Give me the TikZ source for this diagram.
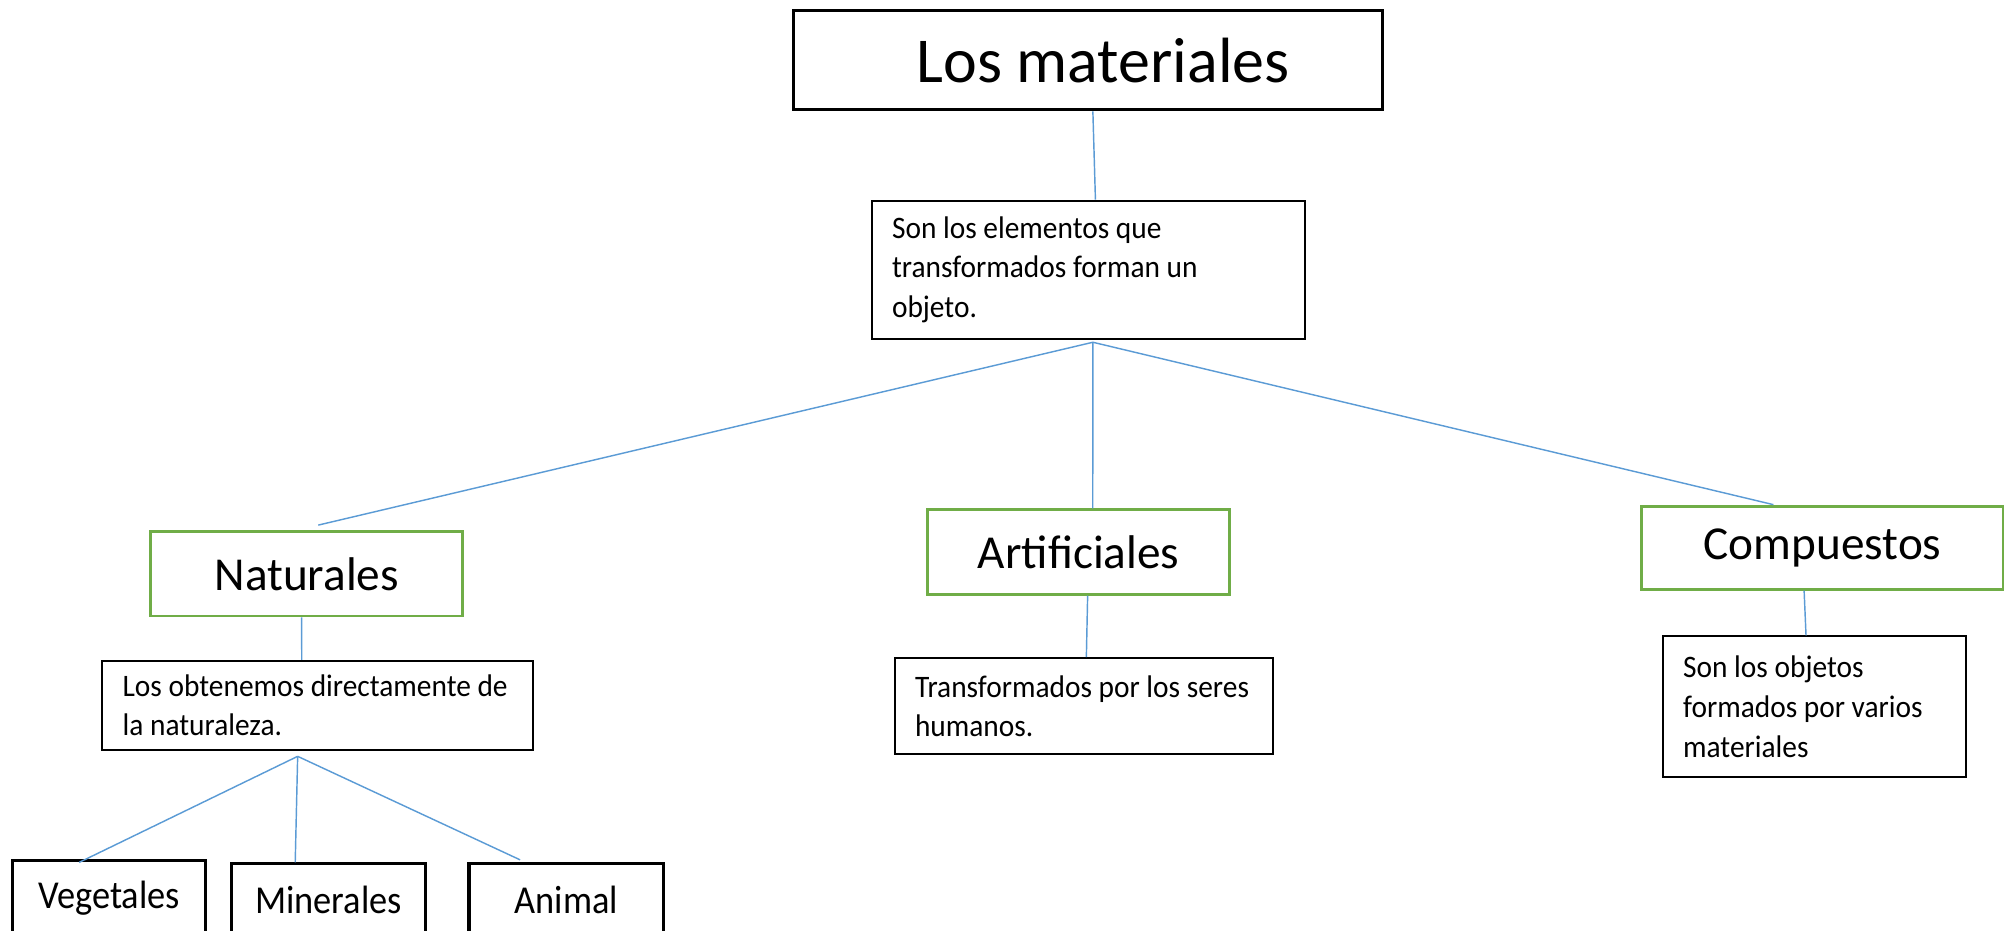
\documentclass[tikz,border=0pt]{standalone}
\usepackage{fontspec}
\setmainfont{Carlito}
\newfontfamily\narrowfont{Carlito}[FakeStretch=0.94]
\newfontfamily\leaffont{Carlito}[FakeStretch=0.92]
\usepackage{tikz}
\usetikzlibrary{positioning}
\definecolor{linkblue}{HTML}{5B9BD5}
\definecolor{kindgreen}{HTML}{70AD47}
\tikzstyle{titlebox} = [rectangle, draw=black, line width=1.7pt, inner sep=0pt, font=\fontsize{35.6}{42}\selectfont]
\tikzstyle{kindbox}  = [rectangle, draw=kindgreen, line width=1.6pt, inner sep=0pt, font=\fontsize{26.3}{32}\selectfont]
\tikzstyle{notebox}  = [rectangle, draw=black, line width=1.1pt, inner xsep=0.4cm, inner ysep=0pt, align=flush left, font=\narrowfont\fontsize{17.4}{22}\selectfont]
\tikzstyle{leafbox}  = [rectangle, draw=black, line width=1.7pt, inner sep=0pt, font=\leaffont\fontsize{22}{26}\selectfont]
\tikzstyle{link}     = [draw=linkblue, line width=0.8pt]

\begin{document}
\begin{tikzpicture}[x=0.025cm, y=-0.025cm]
            \useasboundingbox (0,0) rectangle (1568,728);
            \clip (0,0) rectangle (1568,728);

            \node[titlebox, minimum width=11.525cm, minimum height=1.95cm] (title) at (851.5,47) {\hspace{0.58cm}Los materiales};
            \node[notebox, text width=7.675cm, minimum height=2.7cm] (def) [below=1.725cm of title] {Son los elementos que\\transformados forman un\\objeto.};

            \node[kindbox, minimum width=6.1cm, minimum height=1.65cm]   (nat)  at (240,449)    {Naturales};
            \node[kindbox, minimum width=5.9cm, minimum height=1.65cm]   (art)  at (844,432)    {Artificiales};
            \node[kindbox, minimum width=7.075cm, minimum height=1.625cm] (comp) at (1426,428.5) {Compuestos};

            \node[notebox, text width=7.625cm, minimum height=1.75cm]  (natdef)  at (248.5,552)  {\mbox{Los obtenemos directamente de}\\la naturaleza.};
            \node[notebox, text width=6.6cm, minimum height=1.875cm]   (artdef)  at (848,552.5)  {\mbox{Transformados por los seres}\\humanos.};
            \node[notebox, text width=5.125cm, minimum height=2.75cm]  (compdef) at (1419.5,553) {Son los objetos\\formados por varios\\materiales};

            \node[leafbox, minimum width=3.775cm, minimum height=1.5cm] (veg) at (85.5,703) {Vegetales};
            \node[leafbox, minimum width=3.8cm, minimum height=1.425cm] (min) at (257,704.5) {Minerales};
            \node[leafbox, minimum width=3.8cm, minimum height=1.425cm] (ani) at (443,704.5) {Animal};

            \draw[link] ([xshift=0.09cm]title.south) -- ([xshift=0.14cm]def.north);
            \draw[link] ([xshift=0.09cm,yshift=-0.05cm]def.south) -- ([xshift=0.225cm,yshift=0.1cm]nat.north);
            \draw[link] ([xshift=0.09cm,yshift=-0.05cm]def.south) -- ([xshift=0.275cm]art.north);
            \draw[link] ([xshift=0.09cm,yshift=-0.05cm]def.south) -- ([xshift=-0.96cm]comp.north);

            \draw[link] ([xshift=-0.1cm]nat.south) -- ([xshift=-0.31cm]natdef.north);
            \draw[link] ([xshift=0.175cm]art.south) -- ([xshift=0.05cm]artdef.north);
            \draw[link] ([xshift=-0.36cm]comp.south) -- ([xshift=-0.16cm]compdef.north);

            \draw[link] ([xshift=-0.39cm,yshift=-0.1cm]natdef.south) -- ([xshift=-0.59cm,yshift=-0.075cm]veg.north);
            \draw[link] ([xshift=-0.39cm,yshift=-0.1cm]natdef.south) -- ([xshift=-0.65cm]min.north);
            \draw[link] ([xshift=-0.39cm,yshift=-0.1cm]natdef.south) -- ([xshift=-0.9cm,yshift=0.05cm]ani.north);
        \end{tikzpicture}
\end{document}
